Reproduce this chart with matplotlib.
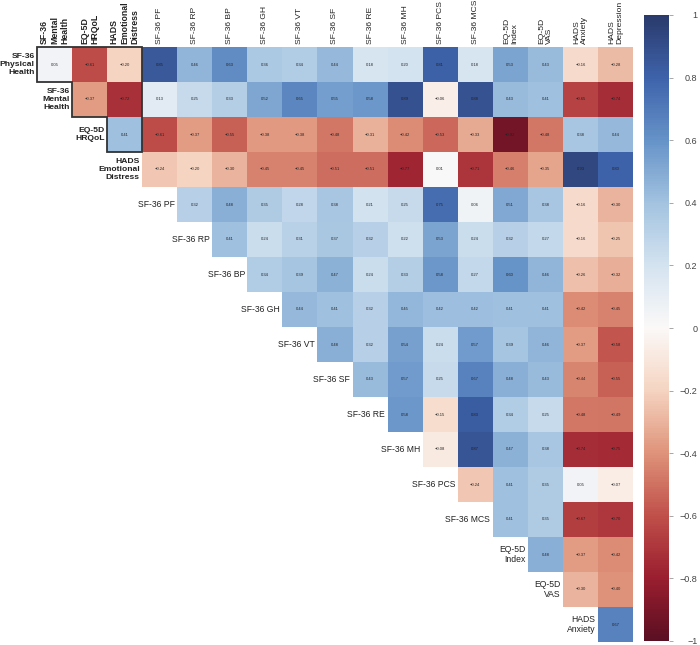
import numpy as np
import matplotlib
matplotlib.use('Agg')
import matplotlib.pyplot as plt
from matplotlib.patches import Polygon
from matplotlib.colors import LinearSegmentedColormap

plt.rcParams['font.family'] = ['Liberation Sans', 'DejaVu Sans']

# rows / columns of the (offset) upper triangle
row_labels = ['SF-36\nPhysical\nHealth', 'SF-36\nMental\nHealth', 'EQ-5D\nHRQoL',
              'HADS\nEmotional\nDistress',
              'SF-36 PF', 'SF-36 RP', 'SF-36 BP', 'SF-36 GH', 'SF-36 VT', 'SF-36 SF',
              'SF-36 RE', 'SF-36 MH', 'SF-36 PCS', 'SF-36 MCS',
              'EQ-5D\nIndex', 'EQ-5D\nVAS', 'HADS\nAnxiety']
col_labels = ['SF-36\nMental\nHealth', 'EQ-5D\nHRQoL', 'HADS\nEmotional\nDistress',
              'SF-36 PF', 'SF-36 RP', 'SF-36 BP', 'SF-36 GH', 'SF-36 VT', 'SF-36 SF',
              'SF-36 RE', 'SF-36 MH', 'SF-36 PCS', 'SF-36 MCS',
              'EQ-5D\nIndex', 'EQ-5D\nVAS', 'HADS\nAnxiety', 'HADS\nDepression']
n_bold_rows = 4
n_bold_cols = 3

# each row starts at the diagonal cell
corr_rows = [
    [0.05, -0.61, -0.20, 0.85, 0.46, 0.63, 0.36, 0.34, 0.44, 0.18, 0.20, 0.81, 0.18, 0.53, 0.43, -0.16, -0.28],
    [-0.37, -0.72, 0.13, 0.25, 0.33, 0.52, 0.65, 0.55, 0.58, 0.89, -0.06, 0.88, 0.43, 0.41, -0.65, -0.74],
    [0.41, -0.61, -0.37, -0.55, -0.38, -0.38, -0.48, -0.31, -0.42, -0.53, -0.33, -0.92, -0.48, 0.38, 0.44],
    [-0.24, -0.20, -0.30, -0.45, -0.45, -0.51, -0.51, -0.77, 0.01, -0.71, -0.46, -0.35, 0.93, 0.80],
    [0.32, 0.48, 0.35, 0.28, 0.38, 0.21, 0.25, 0.75, 0.06, 0.51, 0.38, -0.16, -0.30],
    [0.41, 0.24, 0.31, 0.37, 0.32, 0.22, 0.53, 0.24, 0.32, 0.27, -0.16, -0.25],
    [0.34, 0.39, 0.47, 0.24, 0.33, 0.58, 0.27, 0.60, 0.46, -0.26, -0.32],
    [0.44, 0.41, 0.32, 0.45, 0.42, 0.42, 0.41, 0.41, -0.42, -0.45],
    [0.48, 0.32, 0.54, 0.24, 0.57, 0.39, 0.46, -0.37, -0.58],
    [0.43, 0.57, 0.25, 0.67, 0.48, 0.43, -0.44, -0.55],
    [0.58, -0.15, 0.83, 0.34, 0.25, -0.48, -0.49],
    [-0.08, 0.87, 0.47, 0.38, -0.74, -0.75],
    [-0.24, 0.41, 0.35, 0.05, -0.07],
    [0.41, 0.35, -0.67, -0.70],
    [0.48, -0.37, -0.42],
    [-0.30, -0.40],
    [0.67],
]

n = len(row_labels)
M = np.full((n, n), np.nan)
for i, vals in enumerate(corr_rows):
    M[i, i:i + len(vals)] = vals

# muted red-white-blue, sampled from the original colour bar
cmap = LinearSegmentedColormap.from_list('muted_rdbu', [
    '#5a0f22', '#9a1e2f', '#c0504a', '#df937a', '#f5d4c1', '#fbf9f8',
    '#d4e3f0', '#a3c3e0', '#6693c8', '#3e63ab', '#2a3a6c'])

fig = plt.figure(figsize=(7, 6.45), dpi=100)
ax = fig.add_axes([37/700, 3/645, 596/700, 595/645])
mesh = ax.pcolormesh(np.ma.masked_invalid(M), cmap=cmap, vmin=-1, vmax=1)
ax.set_xlim(0, n)
ax.set_ylim(n, 0)
ax.axis('off')

def fmt(v):
    return f'{v:.2f}'.replace('-', '\u2212')

for i in range(n):
    for j in range(i, n):
        ax.text(j + 0.5, i + 0.5, fmt(M[i, j]), ha='center', va='center',
                fontsize=3, color='#222222')

# row labels sit left of the first cell in each row
for i, lab in enumerate(row_labels):
    bold = i < n_bold_rows
    ax.text(i - 0.07, i + 0.5, lab, ha='right', va='center', multialignment='right',
            fontsize=6.1 if bold else 6.2, fontweight='bold' if bold else 'normal',
            color='#222222')

for j, lab in enumerate(col_labels):
    bold = j < n_bold_cols
    ax.text(j + 0.5, -0.1, lab, rotation=90, ha='center', va='bottom',
            multialignment='left', fontsize=6.3 if bold else 6.1,
            fontweight='bold' if bold else 'normal', color='#222222')

# outline around the summary-score block
box = Polygon([(0, 0), (3, 0), (3, 3), (2, 3), (2, 2), (1, 2), (1, 1), (0, 1)],
              closed=True, fill=False, edgecolor='#333333', lw=1.3, clip_on=False)
ax.add_patch(box)

cax = fig.add_axes([644/700, 4/645, 25/700, 626/645])
cb = fig.colorbar(mesh, cax=cax, ticks=np.linspace(-1, 1, 11))
cb.outline.set_visible(False)
cb.ax.set_yticklabels([f'{round(t, 1):g}'.replace('-', '\u2212') for t in np.linspace(-1, 1, 11)])
cb.ax.tick_params(length=3, width=0.6, color='#999999', labelsize=6.5,
                  labelcolor='#444444', pad=17.5)
for t in cb.ax.get_yticklabels():
    t.set_ha('right')

fig.savefig('out.png', dpi=100)
